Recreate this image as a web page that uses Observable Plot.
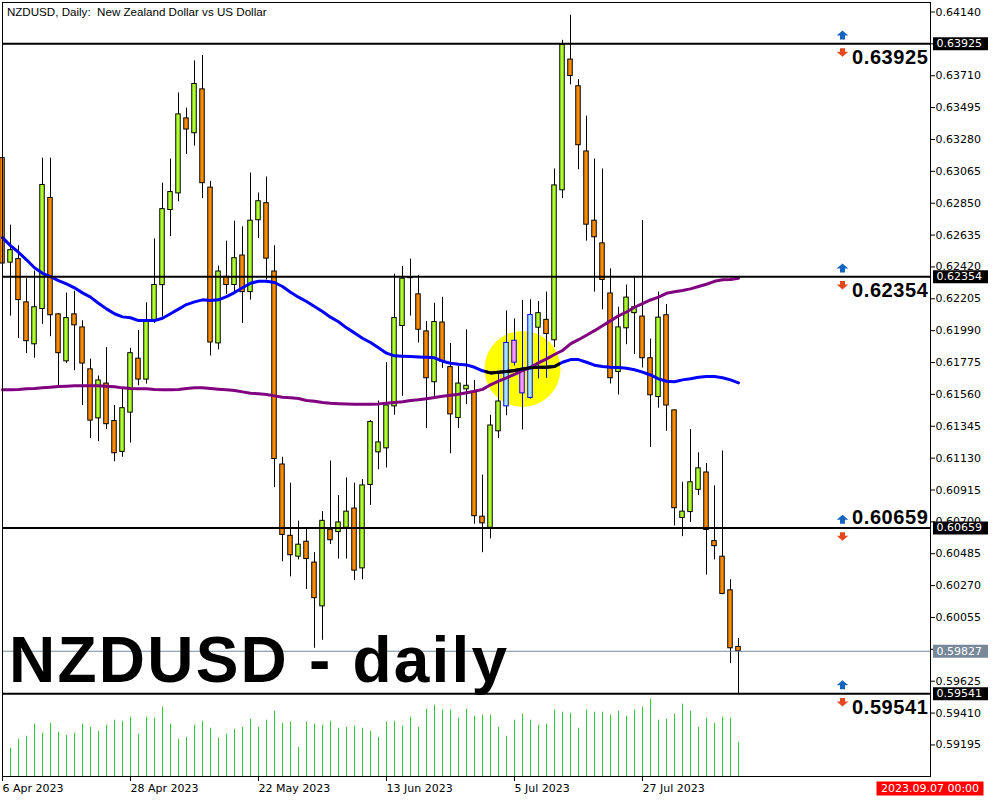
<!DOCTYPE html>
<html>
<head>
<meta charset="utf-8">
<script src="https://cdn.jsdelivr.net/npm/d3@7"></script>
<script src="https://cdn.jsdelivr.net/npm/@observablehq/plot@0.6"></script>
<style>
  html, body { margin: 0; padding: 0; background: #fff; }
  #chart { position: relative; width: 1000px; height: 800px; }
  #chart svg { position: absolute; left: 0; top: 0; overflow: visible; }
  svg text { white-space: pre; }
  .watermark text { letter-spacing: 2.2px; }
  .level-label text { letter-spacing: 0.6px; }
</style>
</head>
<body>
<div id="chart"></div>
<script>
// NZDUSD daily bars, 6 Apr 2023 onward (one entry per trading day)
const open = [0.63154,0.62449,0.62473,0.62181,0.61898,0.62136,0.62885,0.62100,0.61783,0.62100,
  0.62012,0.61729,0.61398,0.61633,0.61380,0.61172,0.61437,0.61801,0.61660,0.62063,
  0.62297,0.62804,0.62916,0.63422,0.63322,0.63618,0.62955,0.61904,0.62353,0.62298,
  0.62497,0.62250,0.62735,0.62850,0.62389,0.61087,0.60606,0.60465,0.60566,0.60425,
  0.60130,0.60647,0.60631,0.60660,0.60790,0.60386,0.60949,0.61169,0.61196,0.61479,
  0.62021,0.62350,0.62235,0.61985,0.61642,0.62045,0.61744,0.61401,0.61594,0.61576,
  0.60735,0.60660,0.61311,0.61479,0.61922,0.61720,0.61536,0.62010,0.62063,0.61925,
  0.62937,0.63819,0.63639,0.63199,0.62732,0.62579,0.62241,0.61711,0.62006,0.62108,
  0.62085,0.61804,0.61542,0.62094,0.61452,0.60726,0.60766,0.60916,0.61033,0.60570,
  0.60465,0.60238,0.59856];
const high = [0.63175,0.62702,0.62563,0.62341,0.62392,0.63154,0.63154,0.62105,0.62244,0.62256,
  0.62057,0.61798,0.61684,0.61876,0.61485,0.61594,0.61871,0.61991,0.62178,0.62609,
  0.62985,0.63148,0.63594,0.63491,0.63810,0.63847,0.62997,0.62425,0.62594,0.62729,
  0.62690,0.63054,0.62919,0.63027,0.62563,0.61136,0.60961,0.60705,0.60654,0.60492,
  0.60769,0.61111,0.60877,0.60996,0.60961,0.60985,0.61383,0.61515,0.61774,0.62371,
  0.62423,0.62473,0.62362,0.62051,0.62175,0.62215,0.61904,0.61750,0.61996,0.61654,
  0.61016,0.61419,0.61699,0.62123,0.62069,0.62193,0.62199,0.62187,0.62250,0.63081,
  0.63949,0.64118,0.63684,0.63437,0.63148,0.63081,0.62407,0.62148,0.62298,0.62353,
  0.62732,0.61934,0.62250,0.62166,0.61455,0.60967,0.61323,0.61166,0.61094,0.60943,
  0.61178,0.60310,0.59913];
const low = [0.62407,0.62088,0.61937,0.61835,0.61804,0.62033,0.61949,0.61618,0.61768,0.61720,
  0.61485,0.61262,0.61241,0.61323,0.61106,0.61136,0.61232,0.61618,0.61630,0.62039,
  0.62081,0.62624,0.62860,0.63178,0.63235,0.62881,0.61819,0.61860,0.62235,0.62244,
  0.62039,0.62196,0.62612,0.62332,0.60931,0.60431,0.60329,0.60443,0.60244,0.59847,
  0.59901,0.60547,0.60449,0.60449,0.60305,0.60310,0.60811,0.61052,0.61063,0.61419,
  0.61547,0.62088,0.61907,0.61329,0.61547,0.61735,0.61160,0.61329,0.61491,0.60684,
  0.60492,0.60585,0.61262,0.61416,0.61753,0.61320,0.61530,0.61666,0.61669,0.61876,
  0.62881,0.63648,0.63076,0.62594,0.62250,0.62130,0.61630,0.61556,0.61895,0.61829,
  0.61738,0.61202,0.61467,0.61311,0.60672,0.60600,0.60696,0.60877,0.60341,0.60443,
  0.60208,0.59744,0.59541];
const close = [0.62443,0.62533,0.62196,0.61919,0.62148,0.62973,0.62094,0.61838,0.62075,0.62026,
  0.61768,0.61383,0.61654,0.61359,0.61163,0.61467,0.61838,0.61660,0.62057,0.62298,
  0.62810,0.62925,0.63449,0.63347,0.63654,0.62985,0.61910,0.62389,0.62298,0.62479,
  0.62250,0.62732,0.62863,0.62476,0.61124,0.60612,0.60475,0.60546,0.60449,0.60185,
  0.60707,0.60576,0.60696,0.60769,0.60371,0.60946,0.61374,0.61236,0.61485,0.62075,
  0.62341,0.62344,0.61996,0.61669,0.62048,0.61780,0.61425,0.61633,0.61618,0.60738,
  0.60690,0.61350,0.61512,0.61907,0.61774,0.61567,0.62096,0.62108,0.61967,0.62970,
  0.63919,0.63708,0.63241,0.62705,0.62620,0.62332,0.61669,0.62012,0.62213,0.62148,
  0.61804,0.61554,0.62078,0.61485,0.60792,0.60769,0.60967,0.61061,0.60645,0.60536,
  0.60214,0.59847,0.59827];
// tick volume per bar
const volume = [45000,28000,37000,40000,52000,43000,53000,44000,41000,43000,
  52000,49000,45000,51000,56000,55000,59000,42000,59000,58000,
  69000,52000,37000,39000,51000,55000,48000,38000,42000,47000,
  49000,57000,49000,56000,65000,53000,54000,29000,54000,52000,
  51000,55000,48000,49000,50000,48000,45000,39000,54000,55000,
  50000,59000,49000,67000,71000,66000,66000,58000,67000,60000,
  61000,61000,49000,40000,56000,62000,56000,51000,52000,66000,
  64000,63000,48000,66000,64000,64000,61000,65000,60000,66000,
  69000,77000,56000,57000,62000,72000,65000,49000,58000,53000,
  59000,58000,34000];
// moving averages (fast: blue, slow: purple)
const maFast = [0.62618,0.62564,0.62519,0.62468,0.62414,0.62377,0.62355,0.62328,0.62306,0.62279,
  0.62245,0.62216,0.62175,0.62137,0.62104,0.62083,0.62077,0.62058,0.62058,0.62058,
  0.62074,0.62104,0.62135,0.62166,0.62184,0.62198,0.62193,0.62198,0.62220,0.62247,
  0.62279,0.62310,0.62323,0.62323,0.62315,0.62288,0.62249,0.62216,0.62187,0.62153,
  0.62119,0.62081,0.62050,0.62009,0.61975,0.61939,0.61910,0.61874,0.61838,0.61820,
  0.61817,0.61815,0.61813,0.61811,0.61807,0.61784,0.61770,0.61763,0.61759,0.61743,
  0.61719,0.61705,0.61710,0.61714,0.61721,0.61732,0.61739,0.61743,0.61743,0.61748,
  0.61777,0.61795,0.61795,0.61777,0.61757,0.61748,0.61743,0.61741,0.61736,0.61726,
  0.61710,0.61691,0.61665,0.61649,0.61645,0.61658,0.61665,0.61676,0.61680,0.61680,
  0.61672,0.61658,0.61638];
const maSlow = [0.61591,0.61591,0.61593,0.61598,0.61600,0.61604,0.61608,0.61613,0.61615,0.61618,
  0.61618,0.61618,0.61618,0.61615,0.61611,0.61604,0.61600,0.61598,0.61598,0.61593,
  0.61591,0.61591,0.61593,0.61600,0.61604,0.61604,0.61600,0.61595,0.61591,0.61586,
  0.61577,0.61568,0.61564,0.61559,0.61550,0.61541,0.61537,0.61532,0.61519,0.61514,
  0.61505,0.61500,0.61497,0.61495,0.61494,0.61494,0.61494,0.61496,0.61500,0.61505,
  0.61511,0.61519,0.61524,0.61531,0.61539,0.61548,0.61554,0.61561,0.61571,0.61581,
  0.61594,0.61625,0.61649,0.61672,0.61695,0.61720,0.61743,0.61773,0.61800,0.61829,
  0.61856,0.61901,0.61929,0.61959,0.61990,0.62023,0.62056,0.62090,0.62116,0.62148,
  0.62173,0.62197,0.62216,0.62242,0.62252,0.62261,0.62272,0.62288,0.62303,0.62323,
  0.62333,0.62335,0.62344];
// bars marked as an inside-bar pattern, and the circle drawn around them
const highlighted = [63, 64, 65, 66];
const haloCenter = {i: 65, p: 0.61732};
// support / resistance levels and which side their label sits on
const levels = [0.63925, 0.62354, 0.60659, 0.59541];
const levelSide = ["below", "below", "above", "below"];
const lastPrice = 0.59827;
// axis ticks
const priceTicks = [0.64140,0.63925,0.63710,0.63495,0.63280,0.63065,0.62850,0.62635,0.62420,0.62205,
  0.61990,0.61775,0.61560,0.61345,0.61130,0.60915,0.60700,0.60485,0.60270,0.60055,
  0.59840,0.59625,0.59410,0.59195];
const dateTicks = [0, 16, 32, 48, 64, 80];
const dateLabels = ["6 Apr 2023", "28 Apr 2023", "22 May 2023", "13 Jun 2023", "5 Jul 2023", "27 Jul 2023"];
const title = "NZDUSD, Daily:  New Zealand Dollar vs US Dollar";
const watermark = "NZDUSD - daily";
const cursorTime = "2023.09.07 00:00";

const candles = open.map((o, i) => ({
  i, open: o, high: high[i], low: low[i], close: close[i], hl: highlighted.includes(i)
}));
const maRows = maFast.map((f, i) => ({i, fast: f, slow: maSlow[i]}));
const volRows = volume.map((v, i) => ({i, v}));
const levelRows = levels.map((p, k) => ({p, side: levelSide[k]}));
const boxRows = [...levels.map(p => ({p, color: "#000000"})), {p: lastPrice, color: "#778899"}];

const fmt = d3.format(".5f");
const isUp = d => d.close >= d.open;
const bodyFill = d => d.hl ? (isUp(d) ? "#a8e8ff" : "#ff99f8") : (isUp(d) ? "#adff2f" : "#ff8c00");
const bodyStroke = d => d.hl ? "#0000ff" : "#000000";

const xDomain = [0, 116];
const yDomain = [0.58982, 0.64204];
const frameMargins = {marginLeft: 2, marginRight: 70, marginTop: 2, marginBottom: 24};

// path symbols for labels and arrows
const boxSymbol = (w, h) => ({draw(ctx) { ctx.rect(-w / 2, -h / 2, w, h); }});
const arrowUp = {draw(ctx) {
  ctx.moveTo(0, -4.5); ctx.lineTo(5.8, 0.5); ctx.lineTo(-5.8, 0.5); ctx.closePath();
  ctx.rect(-2.5, 0.5, 5, 4);
}};
const arrowDown = {draw(ctx) {
  ctx.rect(-2.5, -4, 5, 3.5);
  ctx.moveTo(-5.8, -0.5); ctx.lineTo(5.8, -0.5); ctx.lineTo(0, 4.5); ctx.closePath();
}};

// volume histogram along the bottom of the price window
const volPlot = Plot.plot({
  width: 1000, height: 800, ...frameMargins,
  style: {background: "#ffffff"},
  x: {domain: xDomain, axis: null},
  y: {domain: [0, d3.max(volume) * 10], axis: null},
  marks: [
    Plot.ruleX(volRows, {x: "i", y1: 0, y2: "v", stroke: "#32cd32", strokeWidth: 1})
  ]
});

const main = Plot.plot({
  width: 1000, height: 800, ...frameMargins,
  style: {background: "transparent", fontFamily: "DejaVu Sans", fontSize: "11px", color: "#000"},
  x: {domain: xDomain, axis: null},
  y: {domain: yDomain, axis: null},
  color: {type: "identity"},
  marks: [
    Plot.dot([haloCenter], {x: "i", y: "p", r: 38, fill: "#ffff00", stroke: "none", className: "halo"}),
    Plot.ruleX(candles, {x: "i", y1: "low", y2: "high", stroke: "#000000", strokeWidth: 1}),
    Plot.ruleX(candles, {x: "i", y1: "low", y2: "high", stroke: "#0000ff", strokeWidth: 1, className: "halo-wick"}),
    Plot.rect(candles, {
      x1: d => d.i - 0.28, x2: d => d.i + 0.28, y1: "open", y2: "close",
      fill: bodyFill, stroke: bodyStroke, strokeWidth: 1
    }),
    Plot.line(maRows, {x: "i", y: "slow", stroke: "#800080", strokeWidth: 3}),
    Plot.line(maRows, {x: "i", y: "fast", stroke: "#0000ff", strokeWidth: 3}),
    Plot.line(maRows, {x: "i", y: "fast", stroke: "#000000", strokeWidth: 3, className: "halo-ma"}),
    Plot.ruleY(levels, {stroke: "#000000", strokeWidth: 2}),
    Plot.ruleY([lastPrice], {stroke: "#778899", strokeWidth: 1}),
    Plot.text([watermark], {
      text: d => d, frameAnchor: "bottom-left", dx: 6.6, dy: -114.8,
      textAnchor: "start", lineAnchor: "middle",
      fontFamily: "Liberation Sans", fontWeight: "bold", fontSize: 64, fill: "#000", className: "watermark"
    }),
    Plot.dot(levels, {y: d => d, frameAnchor: "right", dx: -88, dy: -8.8, symbol: arrowUp, fill: "#1565c0", stroke: "none"}),
    Plot.dot(levels, {y: d => d, frameAnchor: "right", dx: -88, dy: 8.3, symbol: arrowDown, fill: "#e6471d", stroke: "none"}),
    Plot.text(levelRows.filter(d => d.side === "below"), {
      y: "p", text: d => fmt(d.p), frameAnchor: "right", dx: -2, dy: 14,
      textAnchor: "end", lineAnchor: "middle",
      fontFamily: "Liberation Sans", fontWeight: "bold", fontSize: 20, fill: "#000", className: "level-label"
    }),
    Plot.text(levelRows.filter(d => d.side === "above"), {
      y: "p", text: d => fmt(d.p), frameAnchor: "right", dx: -2, dy: -10,
      textAnchor: "end", lineAnchor: "middle",
      fontFamily: "Liberation Sans", fontWeight: "bold", fontSize: 20, fill: "#000", className: "level-label"
    }),
    Plot.frame({stroke: "#000000"}),
    Plot.axisY({anchor: "right", ticks: priceTicks, tickFormat: fmt, tickSize: 4, tickPadding: 1, label: null}),
    Plot.axisX({
      anchor: "bottom", ticks: dateTicks, tickFormat: d => dateLabels[dateTicks.indexOf(d)],
      tickSize: 5, tickPadding: 3, textAnchor: "start", label: null
    }),
    Plot.dot(boxRows, {y: "p", frameAnchor: "right", dx: 30, symbol: boxSymbol(55, 13), fill: "color", stroke: "none"}),
    Plot.text(boxRows, {
      y: "p", text: d => fmt(d.p), frameAnchor: "right", dx: 6,
      textAnchor: "start", lineAnchor: "middle", fill: "#ffffff", fontSize: 11
    }),
    Plot.text([title], {
      text: d => d, frameAnchor: "top-left", dx: 4.4, dy: 9.3,
      textAnchor: "start", lineAnchor: "middle",
      fontFamily: "Liberation Sans", fontSize: 11.6, fill: "#000"
    }),
    Plot.dot([cursorTime], {frameAnchor: "bottom-right", dx: -0.5, dy: 12, symbol: boxSymbol(107, 14), fill: "#ff0000", stroke: "none"}),
    Plot.text([cursorTime], {
      text: d => d, frameAnchor: "bottom-right", dx: -0.5, dy: 12,
      textAnchor: "middle", lineAnchor: "middle", fill: "#ffffff", fontSize: 11
    })
  ]
});

const host = document.getElementById("chart");
host.append(volPlot, main);

// restrict the blue wicks and the black MA segment to the inside of the circle
const ns = "http://www.w3.org/2000/svg";
const haloEl = main.querySelector(".halo circle, .halo path");
if (haloEl) {
  let cx, cy, r;
  if (haloEl.tagName.toLowerCase() === "circle") {
    cx = +haloEl.getAttribute("cx"); cy = +haloEl.getAttribute("cy"); r = +haloEl.getAttribute("r");
  } else {
    const sr = main.getBoundingClientRect(), hr = haloEl.getBoundingClientRect();
    cx = hr.x + hr.width / 2 - sr.x - 0.5; cy = hr.y + hr.height / 2 - sr.y - 0.5; r = hr.width / 2;
  }
  const defs = document.createElementNS(ns, "defs");
  const cp = document.createElementNS(ns, "clipPath");
  cp.setAttribute("id", "halo-clip");
  const c = document.createElementNS(ns, "circle");
  c.setAttribute("cx", cx); c.setAttribute("cy", cy); c.setAttribute("r", r);
  cp.append(c); defs.append(cp); main.prepend(defs);
  main.querySelectorAll(".halo-wick, .halo-ma").forEach(g => g.setAttribute("clip-path", "url(#halo-clip)"));
}
</script>
</body>
</html>
